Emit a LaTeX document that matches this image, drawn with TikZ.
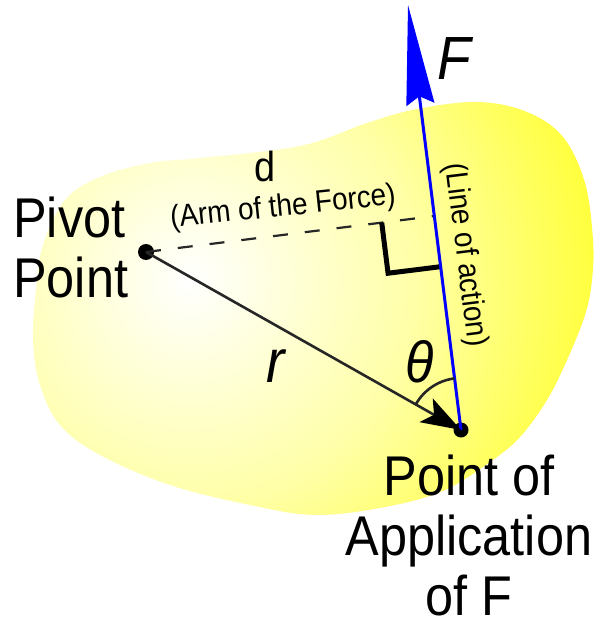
\documentclass[tikz,border=0pt]{standalone}
\usepackage{fontspec}
\setmainfont[FakeStretch=0.9]{Liberation Sans}
\usetikzlibrary{arrows.meta,calc}
\definecolor{blobyellow}{RGB}{255,255,36}
\definecolor{forceblue}{RGB}{0,0,255}
\pgfdeclareradialshading{blobshade}{\pgfpoint{0bp}{0bp}}{%
  color(0bp)=(white); color(12.5bp)=(blobyellow!40!white);
  color(25bp)=(blobyellow); color(50bp)=(blobyellow)}
\begin{document}
\begin{tikzpicture}[x=1pt,y=-1pt,
  dotnode/.style={circle,fill=black,inner sep=0pt,minimum size=16pt},
  bigtext/.style={font=\fontsize{56}{60}\selectfont,inner sep=0pt},
  smalltext/.style={font=\fontsize{31}{34}\selectfont,inner sep=0pt},
  symtext/.style={font=\fontsize{61}{64}\selectfont\itshape,inner sep=0pt},
  armline/.style={black!85,line width=2.2pt,dash pattern=on 15pt off 17pt},
  rline/.style={black!85,line width=2.6pt},
  forceline/.style={forceblue,line width=3pt},
  rightmark/.style={black,line width=5pt,miter limit=4}]
\useasboundingbox (0,0) rectangle (594,620);
% body
\begin{scope}
\clip plot[smooth cycle, tension=0.6] coordinates {
 (300,146) (367,123) (417,109) (478,102) (527,112) (563,137) (585,183)
 (593,240) (592,280) (585,315) (567,360) (547,400) (520,437) (490,462)
 (445,490) (390,506) (317,515) (250,505) (170,485) (100,455) (60,425)
 (40,385) (33,340) (36,290) (43,245) (65,200) (100,177) (150,163) (200,158)};
\shade[shading=blobshade] (190,280) circle (450pt);
\end{scope}
% points
\node[dotnode] (pivot) at (146,252) {};
\node[dotnode,minimum size=15pt] (app) at (461,430) {};
\coordinate (ftip) at (408,5);
\coordinate (foot) at ($(app.center)!(pivot.center)!(ftip)$);
\coordinate (c1) at ($(foot)!53pt!(pivot.center)$);
\coordinate (c3) at ($(foot)!51pt!(app.center)$);
\coordinate (cfar) at ($(c1)+(c3)-(foot)$);
% arm (dashed)
\draw[armline] (pivot.center) -- (foot);
% right angle mark
\draw[rightmark] (c1) -- (cfar) -- (c3);
% line of action / force
\draw[forceline,-{Stealth[length=100pt,width=28pt,inset=8pt]}] (app.center) -- (ftip);
% r vector
\draw[rline,-{Stealth[length=40pt,width=27pt,inset=9pt,fill=black,color=black]}] (pivot.center) -- (app.center);
% theta arc
\draw[black!85,line width=2.6pt] (app.center) ++(-150.5:52) arc[start angle=-150.5,end angle=-97.1,radius=52];
% labels
\node[bigtext,anchor=base west,align=left] (pivotlbl) at (13,297) {Pivot\\Point};
\node[bigtext,anchor=base,align=center] (applbl) at (469,615) {Point of\\Application\\of F};
\node[symtext,anchor=base west] (flbl) at (437,80) {F};
\node[symtext,anchor=base west] (rlbl) at (266,382) {r};
\node[symtext,font=\fontsize{58}{60}\selectfont\itshape,anchor=base west] (thlbl) at (405,382) {θ};
\node[font=\fontsize{42}{44}\selectfont,inner sep=0pt,anchor=base west] (dlbl) at (254,182) {d};
\node[smalltext,rotate=6] (armlbl) at (283,208) {(Arm of the Force)};
\node[smalltext,rotate=-83] (loalbl) at (465,255) {(Line of action)};
\end{tikzpicture}
\end{document}
